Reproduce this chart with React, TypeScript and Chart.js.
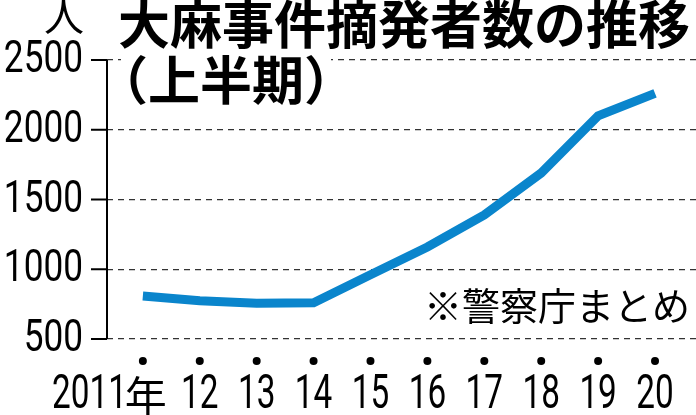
import React, { useEffect, useRef } from "react";
import { Chart, registerables } from "chart.js";

Chart.register(...registerables);

const years = [2011, 2012, 2013, 2014, 2015, 2016, 2017, 2018, 2019, 2020];
const arrests = [808, 775, 756, 760, 960, 1160, 1390, 1690, 2100, 2261];
const xLabels = ["2011", "12", "13", "14", "15", "16", "17", "18", "19", "20"];
const firstSuffix = "年";
const yTicks = [500, 1000, 1500, 2000, 2500];
const titleLine1 = "大麻事件摘発者数の推移";
const titleLine2 = "（上半期）";
const unitLabel = "人";
const noteText = "※警察庁まとめ";

const NUM_FONT = "Roboto, 'Liberation Sans', sans-serif";
const CJK_FONT = "'Noto Sans CJK JP', sans-serif";

function condensed(
  ctx: CanvasRenderingContext2D,
  text: string,
  x: number,
  y: number,
  sx: number
) {
  ctx.save();
  ctx.translate(x, y);
  ctx.scale(sx, 1);
  ctx.fillText(text, 0, 0);
  ctx.restore();
}

const decorPlugin = {
  id: "decor",
  afterDraw(chart: any) {
    const ctx = chart.ctx as CanvasRenderingContext2D;
    const xs = chart.scales.x;
    const ys = chart.scales.y;
    const area = chart.chartArea;
    ctx.save();

    // white block behind subtitle
    ctx.fillStyle = "#fff";
    ctx.fillRect(121, 54, 210, 52);

    // axis line
    ctx.strokeStyle = "#000";
    ctx.lineWidth = 2;
    ctx.setLineDash([]);
    ctx.beginPath();
    ctx.moveTo(area.left, ys.getPixelForValue(yTicks[yTicks.length - 1]));
    ctx.lineTo(area.left, ys.getPixelForValue(yTicks[0]));
    ctx.stroke();

    // tick marks + labels
    ctx.font = `44px ${NUM_FONT}`;
    ctx.fillStyle = "#000";
    ctx.textAlign = "right";
    ctx.textBaseline = "middle";
    yTicks.forEach((v) => {
      const y = ys.getPixelForValue(v);
      ctx.beginPath();
      ctx.moveTo(area.left - 16, y);
      ctx.lineTo(area.left, y);
      ctx.stroke();
      condensed(ctx, String(v), 83, y + 1, 0.8);
    });

    // dots and x labels
    years.forEach((yr, i) => {
      const x = xs.getPixelForValue(yr);
      ctx.beginPath();
      ctx.arc(x, 361, 4, 0, Math.PI * 2);
      ctx.fill();
      ctx.font = `49px ${NUM_FONT}`;
      ctx.textBaseline = "middle";
      if (i === 0) {
        ctx.textAlign = "right";
        condensed(ctx, xLabels[i], x - 16, 396, 0.68);
        ctx.font = `42px ${CJK_FONT}`;
        ctx.textAlign = "left";
        ctx.fillText(firstSuffix, x - 18, 396);
      } else {
        ctx.textAlign = "center";
        condensed(ctx, xLabels[i], x, 396, 0.68);
      }
    });

    // unit
    ctx.font = `40px ${CJK_FONT}`;
    ctx.textAlign = "center";
    ctx.textBaseline = "middle";
    ctx.fillText(unitLabel, 64, 16);

    // title
    ctx.font = `bold 52px ${CJK_FONT}`;
    ctx.textAlign = "left";
    ctx.fillText(titleLine1, 118, 24);
    ctx.fillText(titleLine2, 96, 80);

    // note
    ctx.font = `38px ${CJK_FONT}`;
    ctx.fillText(noteText, 424, 306);

    ctx.restore();
  },
};

export default function App() {
  const ref = useRef<HTMLCanvasElement>(null);
  useEffect(() => {
    document.body.style.margin = "0";
    const chart = new Chart(ref.current!, {
      type: "line",
      data: {
        datasets: [
          {
            data: years.map((x, i) => ({ x, y: arrests[i] })),
            borderColor: "#0a85cc",
            borderWidth: 9,
            pointRadius: 0,
            tension: 0,
            fill: false,
          },
        ],
      },
      options: {
        animation: false,
        responsive: false,
        events: [],
        layout: { padding: { left: 107, top: 60, right: 0, bottom: 76 } },
        plugins: { legend: { display: false }, tooltip: { enabled: false } },
        scales: {
          x: {
            type: "linear",
            min: 2010.37,
            max: 2020.72,
            ticks: { display: false },
            grid: { display: false, drawTicks: false },
            border: { display: false },
            afterFit: (s: any) => {
              s.height = 0;
            },
          },
          y: {
            min: 500,
            max: 2500,
            ticks: { display: false, stepSize: 500 },
            grid: { color: "#333", lineWidth: 1.3, drawTicks: false },
            border: { display: false, dash: [6, 5] },
            afterFit: (s: any) => {
              s.width = 0;
            },
          },
        },
      },
      plugins: [decorPlugin],
    });
    return () => chart.destroy();
  }, []);
  return <canvas ref={ref} width={696} height={415} style={{ display: "block" }} />;
}
